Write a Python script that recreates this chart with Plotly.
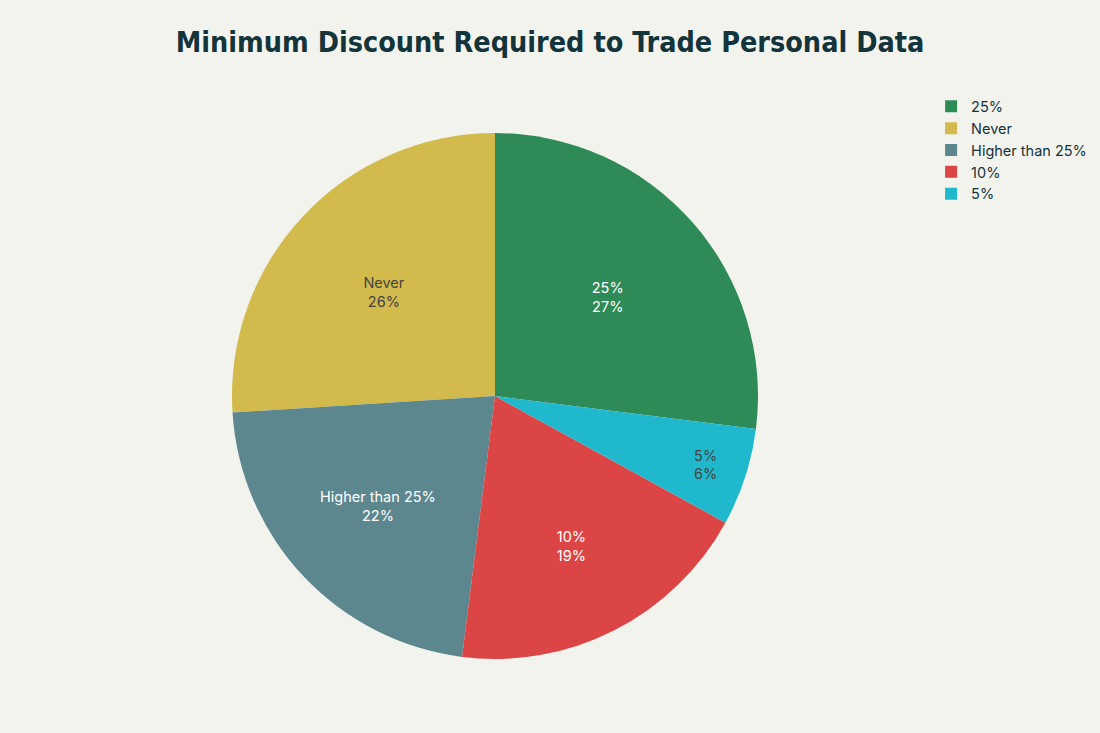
import plotly.graph_objects as go

labels = ["25%", "5%", "10%", "Higher than 25%", "Never"]
values = [27, 6, 19, 22, 26]
colors = ["#2E8B57", "#1FB8CD", "#DB4545", "#5D878F", "#D2BA4C"]

fig = go.Figure(
    go.Pie(
        labels=labels,
        values=values,
        marker=dict(colors=colors),
        textinfo="label+percent",
        textposition="inside",
        insidetextorientation="horizontal",
        textfont=dict(size=14.5),
        hovertemplate="%{label}<br>%{percent}<extra></extra>",
    )
)

fig.update_layout(
    title=dict(
        text="<b>Minimum Discount Required to Trade Personal Data</b>",
        x=0.5,
        xanchor="center",
        y=0.956,
        font=dict(family="DejaVu Sans Condensed", size=28.5, color="#13343B"),
    ),
    font=dict(family="Inter, Roboto, sans-serif", size=14.5, color="#13343B"),
    paper_bgcolor="#F3F3EE",
    plot_bgcolor="#F3F3EE",
    width=1100,
    height=733,
    margin=dict(l=50, r=160, t=133, b=74, autoexpand=False),
    legend=dict(x=0.99, y=1.081, xanchor="left", yanchor="top", font=dict(size=14.5)),
)

# drop the page margin so the figure fills the window
fig.write_html(
    "out.html",
    config={"displayModeBar": False},
    post_script="document.body.style.margin='0';",
)
